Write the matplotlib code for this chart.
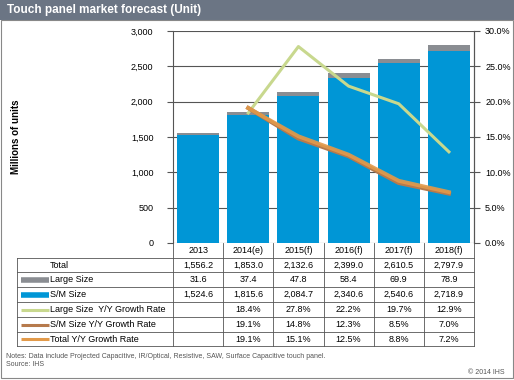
import matplotlib
matplotlib.use("Agg")
import matplotlib.pyplot as plt
from matplotlib.patches import Rectangle
from matplotlib.lines import Line2D
import numpy as np

plt.rcParams['font.family'] = ['Liberation Sans', 'DejaVu Sans']

years = ["2013", "2014(e)", "2015(f)", "2016(f)", "2017(f)", "2018(f)"]
total = [1556.2, 1853.0, 2132.6, 2399.0, 2610.5, 2797.9]
large = [31.6, 37.4, 47.8, 58.4, 69.9, 78.9]
sm = [1524.6, 1815.6, 2084.7, 2340.6, 2540.6, 2718.9]
large_gr = [None, 18.4, 27.8, 22.2, 19.7, 12.9]
sm_gr = [None, 19.1, 14.8, 12.3, 8.5, 7.0]
total_gr = [None, 19.1, 15.1, 12.5, 8.8, 7.2]

C_BLUE = "#0096d6"
C_GRAY = "#8a8d92"
C_LGREEN = "#c8d88e"
C_BROWN = "#b67a4c"
C_ORANGE = "#e29a4a"
GRID = "#555555"

W, H = 514, 380
fig = plt.figure(figsize=(W / 100, H / 100), dpi=100)

def fx(x):
    return x / W

def fy(y):
    return 1 - y / H

# title bar and frame
fig.patches.append(Rectangle((0, fy(20)), 1, 20 / H, transform=fig.transFigure,
                             facecolor="#6b7584", edgecolor="none", zorder=0))
fig.patches.append(Rectangle((fx(1), fy(378)), fx(512), 358 / H, transform=fig.transFigure,
                             facecolor="none", edgecolor="#888888", lw=0.8, zorder=0))
fig.text(fx(7), fy(10), "Touch panel market forecast (Unit)", color="white",
         fontsize=8.5, fontweight="bold", va="center", ha="left")

L, R, T, B = 173, 474, 31, 243
ax = fig.add_axes([fx(L), fy(B), (R - L) / W, (B - T) / H])
x = np.arange(len(years))
bw = 0.84
ax.bar(x, sm, width=bw, color=C_BLUE, zorder=3)
ax.bar(x, large, width=bw, bottom=sm, color=C_GRAY, zorder=3)
ax.set_xlim(-0.5, len(years) - 0.5)
ax.set_ylim(0, 3000)
ax.set_yticks(np.arange(0, 3001, 500))
ax.set_yticklabels([f"{v:,}" for v in range(0, 3001, 500)])
ax.yaxis.grid(True, color=GRID, lw=0.8, zorder=0)
ax.set_xticks([])
for s in ["top", "bottom"]:
    ax.spines[s].set_visible(False)
ax.spines["left"].set_color(GRID)
ax.spines["right"].set_color(GRID)
ax.tick_params(axis="y", labelsize=6.5, length=4, color=GRID, pad=10)
ax.set_axisbelow(True)

ax2 = ax.twinx()
ax2.set_ylim(0, 30)
ax2.set_yticks(np.arange(0, 30.1, 5))
ax2.set_yticklabels([f"{v:.1f}%" for v in np.arange(0, 30.1, 5)])
ax2.tick_params(axis="y", labelsize=6.5, length=4, color=GRID, pad=4)
for s in ["top", "bottom", "left"]:
    ax2.spines[s].set_visible(False)
ax2.spines["right"].set_color(GRID)
gx = x[1:]
ax2.plot(gx, large_gr[1:], color=C_LGREEN, lw=2.2, zorder=4)
ax2.plot(gx, sm_gr[1:], color=C_BROWN, lw=3.0, zorder=4)
ax2.plot(gx, total_gr[1:], color=C_ORANGE, lw=2.8, zorder=5, alpha=0.9)

fig.text(fx(16), fy(137), "Millions of units", rotation=90, fontsize=7,
         fontweight="bold", ha="center", va="center")

# table
rows_y = [243, 258, 272, 287, 302, 317, 332, 346]
col_x = [L + (R - L) * i / len(years) for i in range(len(years) + 1)]
TL = 17
lc = "#555555"

def hline(y, x0, x1):
    fig.add_artist(Line2D([fx(x0), fx(x1)], [fy(y), fy(y)], transform=fig.transFigure, color=lc, lw=0.6))

def vline(xx, y0, y1):
    fig.add_artist(Line2D([fx(xx), fx(xx)], [fy(y0), fy(y1)], transform=fig.transFigure, color=lc, lw=0.6))

for yy in rows_y[1:]:
    hline(yy, TL, R)
vline(TL, rows_y[1], rows_y[-1])
for cx in col_x:
    vline(cx, rows_y[0], rows_y[-1])

for i, yr in enumerate(years):
    fig.text(fx((col_x[i] + col_x[i + 1]) / 2), fy((rows_y[0] + rows_y[1]) / 2), yr,
             fontsize=6.5, ha="center", va="center")

row_labels = ["Total", "Large Size", "S/M Size", "Large Size  Y/Y Growth Rate",
              "S/M Size Y/Y Growth Rate", "Total Y/Y Growth Rate"]
row_data = [
    [f"{v:,.1f}" for v in total],
    [f"{v:,.1f}" for v in large],
    [f"{v:,.1f}" for v in sm],
    ["" if v is None else f"{v:.1f}%" for v in large_gr],
    ["" if v is None else f"{v:.1f}%" for v in sm_gr],
    ["" if v is None else f"{v:.1f}%" for v in total_gr],
]
swatches = [None, (C_GRAY, 4), (C_BLUE, 4), (C_LGREEN, 2.2), (C_BROWN, 2.2), (C_ORANGE, 2.2)]

for r in range(6):
    yc = (rows_y[r + 1] + rows_y[r + 2]) / 2
    sw = swatches[r]
    if sw is not None:
        fig.add_artist(Line2D([fx(21), fx(49)], [fy(yc), fy(yc)], transform=fig.transFigure,
                              color=sw[0], lw=sw[1], solid_capstyle="butt"))
    fig.text(fx(50), fy(yc), row_labels[r], fontsize=6.5, ha="left", va="center")
    for i in range(len(years)):
        fig.text(fx((col_x[i] + col_x[i + 1]) / 2), fy(yc), row_data[r][i],
                 fontsize=6.5, ha="center", va="center")

fig.text(fx(6), fy(356), "Notes: Data include Projected Capacitive, IR/Optical, Resistive, SAW, Surface Capacitive touch panel.",
         fontsize=5, color="#555555", ha="left", va="center")
fig.text(fx(6), fy(365), "Source: IHS", fontsize=5, color="#555555", ha="left", va="center")
fig.text(fx(505), fy(372), "© 2014 IHS", fontsize=5, color="#555555", ha="right", va="center")

fig.savefig("out.png", dpi=100)
